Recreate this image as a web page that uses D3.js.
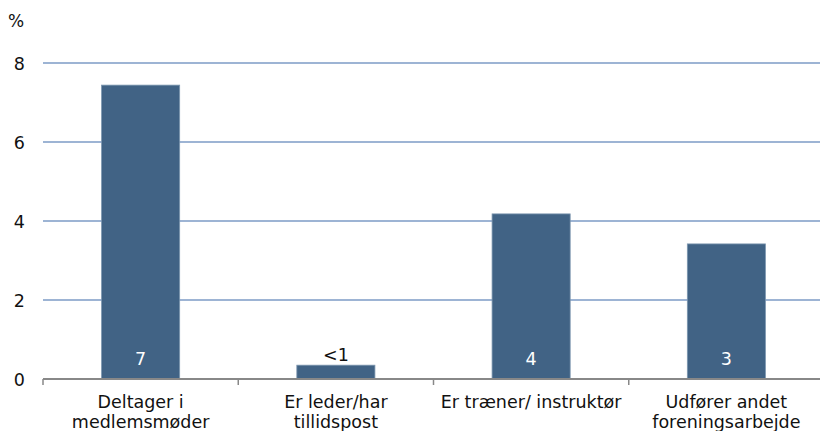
<!DOCTYPE html>
<html>
<head>
<meta charset="utf-8">
<script src="https://cdn.jsdelivr.net/npm/d3@7"></script>
<style>
  body { margin: 0; background: #fff; }
  svg text { font-family: "DejaVu Sans", sans-serif; fill: #111; }
</style>
</head>
<body>
<svg id="chart" width="820" height="431"></svg>
<script>
const categories = [
  ['Deltager i', 'medlemsmøder'],
  ['Er leder/har', 'tillidspost'],
  ['Er træner/ instruktør'],
  ['Udfører andet', 'foreningsarbejde']
];
const values = [7.44, 0.35, 4.18, 3.42];
const valueLabels = ['7', '<1', '4', '3'];
const yTicks = [0, 2, 4, 6, 8];

const margin = { left: 43, right: -4, top: 63, bottom: 52 };
const width = 820, height = 431;
const svg = d3.select('#chart');

const x = d3.scaleBand()
  .domain(d3.range(categories.length))
  .range([margin.left, width - margin.right])
  .paddingInner(0.6)
  .paddingOuter(0.3);
const step = x.step();

const y = d3.scaleLinear().domain([0, 8]).range([height - margin.bottom, margin.top]);

// gridlines
svg.append('g')
  .selectAll('line')
  .data(yTicks.filter((d) => d > 0))
  .join('line')
  .attr('x1', margin.left)
  .attr('x2', width)
  .attr('y1', (d) => y(d))
  .attr('y2', (d) => y(d))
  .attr('stroke', '#9db4d4')
  .attr('stroke-width', 2);

// y tick labels
svg.append('g')
  .selectAll('text')
  .data(yTicks)
  .join('text')
  .attr('x', 25)
  .attr('y', (d) => y(d) + 7)
  .attr('text-anchor', 'end')
  .attr('font-size', 17.5)
  .text((d) => d);

svg.append('text')
  .attr('x', 8)
  .attr('y', 27)
  .attr('font-size', 17)
  .text('%');

// bars
svg.append('g')
  .selectAll('rect')
  .data(values)
  .join('rect')
  .attr('x', (d, i) => x(i))
  .attr('width', x.bandwidth())
  .attr('y', (d) => y(d))
  .attr('height', (d) => y(0) - y(d))
  .attr('fill', '#416385')
  .attr('stroke', '#7d97b0')
  .attr('stroke-width', 0.8);

// axis line and ticks
svg.append('line')
  .attr('x1', margin.left)
  .attr('x2', width)
  .attr('y1', y(0))
  .attr('y2', y(0))
  .attr('stroke', '#888')
  .attr('stroke-width', 2);

svg.append('g')
  .selectAll('line')
  .data(d3.range(categories.length))
  .join('line')
  .attr('x1', (i) => x(i) - (step - x.bandwidth()) / 2)
  .attr('x2', (i) => x(i) - (step - x.bandwidth()) / 2)
  .attr('y1', y(0))
  .attr('y2', y(0) + 6)
  .attr('stroke', '#888')
  .attr('stroke-width', 1.5);

// value labels
svg.append('g')
  .selectAll('text')
  .data(values)
  .join('text')
  .attr('x', (d, i) => x(i) + x.bandwidth() / 2)
  .attr('y', (d) => (d < 1 ? y(d) - 4 : y(0) - 14))
  .attr('text-anchor', 'middle')
  .attr('font-size', 17.5)
  .style('fill', (d) => (d < 1 ? '#111' : '#fff'))
  .text((d, i) => valueLabels[i]);

// category labels, one text per line
const lines = [];
categories.forEach((c, i) => c.forEach((t, j) => lines.push({ i, j, t })));
svg.append('g')
  .selectAll('text')
  .data(lines)
  .join('text')
  .attr('x', (d) => x(d.i) + x.bandwidth() / 2)
  .attr('y', (d) => 408 + d.j * 20)
  .attr('text-anchor', 'middle')
  .attr('font-size', 17.5)
  .text((d) => d.t);
</script>
</body>
</html>
